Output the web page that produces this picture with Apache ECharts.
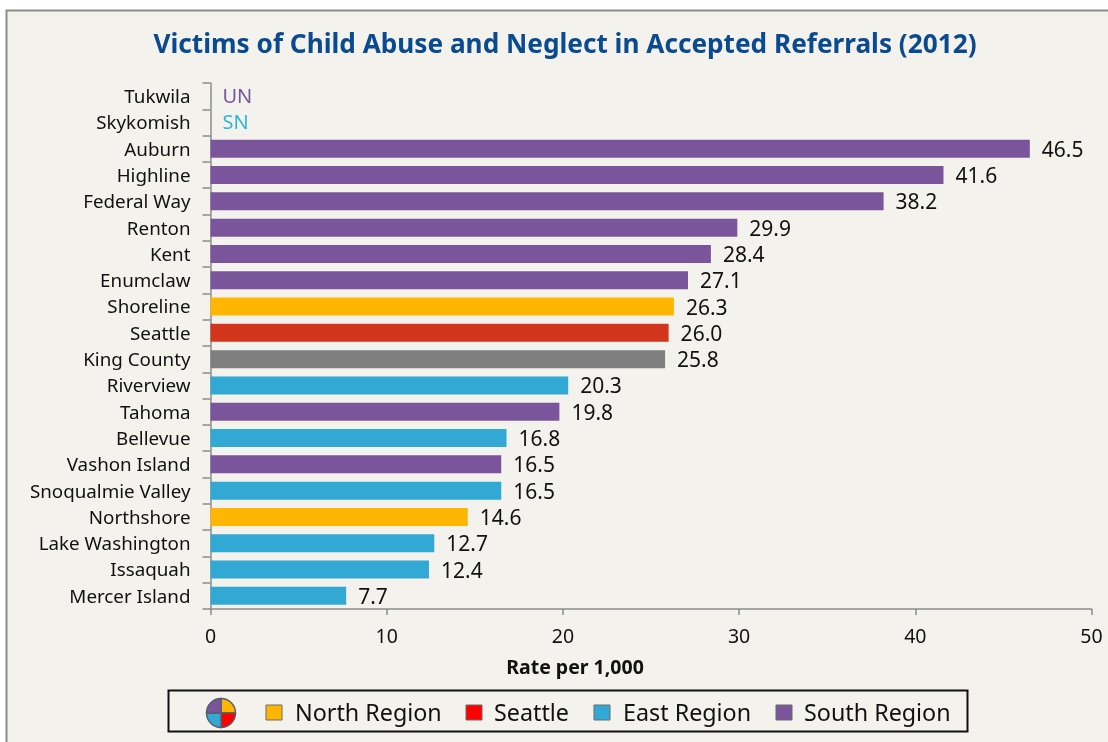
<!DOCTYPE html>
<html><head><meta charset="utf-8">
<style>html,body{margin:0;padding:0;background:#fff}#c{width:1108px;height:742px}</style>
<script src="https://cdn.jsdelivr.net/npm/echarts@6/dist/echarts.min.js"></script></head>
<body><div id="c"></div>
<script>
const titleText = 'Victims of Child Abuse and Neglect in Accepted Referrals (2012)';
const axisName = 'Rate per 1,000';
const districts = ['Tukwila','Skykomish','Auburn','Highline','Federal Way','Renton','Kent','Enumclaw','Shoreline','Seattle','King County','Riverview','Tahoma','Bellevue','Vashon Island','Snoqualmie Valley','Northshore','Lake Washington','Issaquah','Mercer Island'];
const rates = [0,0,46.5,41.6,38.2,29.9,28.4,27.1,26.3,26.0,25.8,20.3,19.8,16.8,16.5,16.5,14.6,12.7,12.4,7.7];
const notes = ['UN','SN'];
const regions = ['S','E','S','S','S','S','S','S','N','W','K','E','S','E','S','E','N','E','E','E'];
const regionColors = {N:'#FFB600',W:'#D1351B',E:'#31A9D4',S:'#7A559C',K:'#7F7F7F'};
const noteColors = {S:'#7A559C',E:'#31B4DC'};
const legendNames = ['North Region','Seattle','East Region','South Region'];
const legendColors = ['#FFB600','#FF0000','#31A9D4','#7A559C'];
const legendSquareX = [266,466,594,776];
const legendTextX = [295,494,623,804];
const FONT = '"Noto Sans"';

const chart = echarts.init(document.getElementById('c'), null, {renderer:'canvas'});

const arc = (a0,a1,fill) => ({type:'sector',shape:{cx:221,cy:713,r:14.5,r0:0,startAngle:a0,endAngle:a1},
  style:{fill,stroke:'#5b5b6b',lineWidth:1.4},silent:true});
const graphics = [
  {type:'rect',shape:{x:6.5,y:10.5,width:1200,height:800},style:{fill:'#F3F2EC',stroke:'#8C8C8C',lineWidth:2},z:-10,silent:true},
  {type:'rect',shape:{x:168.5,y:690.5,width:799,height:41},style:{fill:'#F3F2EC',stroke:'#111',lineWidth:2},silent:true},
  arc(-Math.PI/2,0,'#FFB600'), arc(0,Math.PI/2,'#FF0000'),
  arc(Math.PI/2,Math.PI,'#31A9D4'), arc(Math.PI,Math.PI*1.5,'#7A559C')
];
legendNames.forEach((n,i)=>{
  graphics.push({type:'rect',shape:{x:legendSquareX[i],y:705,width:16,height:15},style:{fill:legendColors[i],stroke:'#6b6b6b',lineWidth:1},silent:true});
  graphics.push({type:'text',x:legendTextX[i],y:714,style:{text:n,font:'23.3px '+FONT,fill:'#111',textVerticalAlign:'middle',textBaseline:'middle'},silent:true});
});

chart.setOption({
  animation:false,
  backgroundColor:'#fff',
  title:{text:titleText,left:560,top:28,textAlign:'center',textStyle:{color:'#0A4A90',fontFamily:FONT,fontWeight:'bold',fontSize:26.2}},
  graphic:graphics,
  grid:{left:210.5,right:16.5,top:83,bottom:133,containLabel:false},
  xAxis:{type:'value',min:0,max:50,interval:10,
    name:axisName,nameLocation:'middle',nameGap:49,
    nameTextStyle:{fontFamily:FONT,fontWeight:'bold',fontSize:19.5,color:'#111',padding:[0,152,0,0]},
    splitLine:{show:false},
    axisLine:{show:true,lineStyle:{color:'#8C8C8C',width:1.5}},
    axisTick:{show:true,length:6,lineStyle:{color:'#8C8C8C',width:1.5}},
    axisLabel:{fontFamily:FONT,fontSize:19.5,color:'#111',margin:18}},
  yAxis:{type:'category',inverse:true,data:districts,
    axisLine:{show:true,lineStyle:{color:'#8C8C8C',width:1.5}},
    axisTick:{show:true,length:8,alignWithLabel:false,lineStyle:{color:'#8C8C8C',width:1.5}},
    axisLabel:{margin:20,interval:0,formatter:'{a|{value}}',
      rich:{a:{fontFamily:FONT,fontSize:18.8,color:'#111',padding:[3,0,0,0]}}}},
  series:[{type:'bar',barWidth:18,
    data:rates.map((v,i)=>{
      const isNote = i < notes.length;
      return {value:v,itemStyle:{color:regionColors[regions[i]]},
        label:{show:true,position:'right',distance:12,fontFamily:FONT,
          fontSize:isNote?20:21,color:isNote?noteColors[regions[i]]:'#111',
          offset:[0,isNote?1:2],
          formatter:isNote?notes[i]:v.toFixed(1)}};
    })}]
});
</script></body></html>
